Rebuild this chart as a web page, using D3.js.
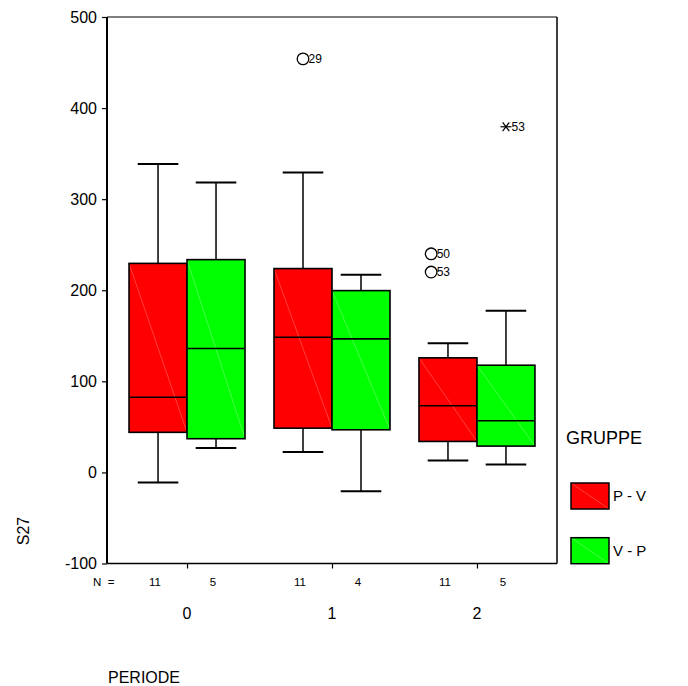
<!DOCTYPE html>
<html><head><meta charset="utf-8">
<script src="https://cdn.jsdelivr.net/npm/d3@7"></script>
<style>body{margin:0;background:#fff}svg{display:block;font-family:"Liberation Sans",Arial,sans-serif}</style>
</head><body><svg id="c" width="688" height="686"></svg>
<script>
const periods = ["0", "1", "2"];
const groups = ["P - V", "V - P"];
const groupColors = ["#ff0000", "#00ff00"];
const diagColors = ["#ff7c7c", "#8cff8c"];
const countsPV = [11, 11, 11];
const countsVP = [5, 4, 5];
const pvLow = [-11, 22.5, 13];
const pvQ1 = [44, 48.6, 34];
const pvMedian = [82.6, 148.4, 73.2];
const pvQ3 = [229.5, 223.8, 125.8];
const pvHigh = [338.6, 329.4, 141.8];
const vpLow = [26.7, -20.8, 8.8];
const vpQ1 = [37, 46.8, 28.9];
const vpMedian = [136, 146.6, 56.7];
const vpQ3 = [233.6, 199.6, 117.7];
const vpHigh = [318.4, 217, 177.4];
const outPeriod = [1, 2, 2, 2];
const outGroup = [0, 0, 0, 1];
const outValue = [454, 240, 220, 379.5];
const outLabel = ["29", "50", "53", "53"];
const outExtreme = [false, false, false, true];
const yTicks = [-100, 0, 100, 200, 300, 400, 500];

const svg = d3.select("#c");
const L = 107, R = 557, T = 17, B = 563.5;
const x = d3.scalePoint().domain(periods).range([L, R]).padding(0.552);
const step = x.step();
const bw = step * 0.4;
const y = d3.scaleLinear().domain([-100, 500]).range([B, T]);

const boxes = [];
periods.forEach((p, i) => {
  boxes.push({p, g: 0, low: pvLow[i], q1: pvQ1[i], med: pvMedian[i], q3: pvQ3[i], high: pvHigh[i], n: countsPV[i]});
  boxes.push({p, g: 1, low: vpLow[i], q1: vpQ1[i], med: vpMedian[i], q3: vpQ3[i], high: vpHigh[i], n: countsVP[i]});
});
const cx = d => x(d.p) + (d.g === 0 ? -bw / 2 : bw / 2);

// frame
svg.append("line").attr("x1", L).attr("x2", R).attr("y1", T).attr("y2", T).attr("stroke", "#000").attr("stroke-width", 1.2);
svg.append("line").attr("x1", R).attr("x2", R).attr("y1", T).attr("y2", B).attr("stroke", "#000").attr("stroke-width", 1.5);
svg.append("line").attr("x1", L).attr("x2", R).attr("y1", B).attr("y2", B).attr("stroke", "#000").attr("stroke-width", 1.5);

// y axis
const yAxis = d3.axisLeft(y).tickValues(yTicks).tickSize(5).tickPadding(5).tickFormat(d => String(d));
const ya = svg.append("g").attr("transform", `translate(${L},0)`).call(yAxis);
ya.attr("font-family", null);
ya.select(".domain").attr("stroke-width", 2).attr("d", `M-0,${T}V${B}`);
ya.selectAll(".tick line").attr("stroke-width", 1.2);
ya.selectAll("text").attr("font-size", 16).attr("fill", "#000");

// x axis ticks
const xAxis = d3.axisBottom(x).tickSize(5).tickFormat("");
const xa = svg.append("g").attr("transform", `translate(0,${B})`).call(xAxis);
xa.select(".domain").remove();
xa.selectAll(".tick line").attr("stroke-width", 1.2);

// whiskers
const wg = svg.append("g").attr("stroke", "#000").attr("stroke-width", 1.5);
boxes.forEach(d => {
  const c = cx(d);
  wg.append("line").attr("x1", c).attr("x2", c).attr("y1", y(d.q3)).attr("y2", y(d.high));
  wg.append("line").attr("x1", c).attr("x2", c).attr("y1", y(d.q1)).attr("y2", y(d.low));
  wg.append("line").attr("x1", c - bw * 0.35).attr("x2", c + bw * 0.35).attr("y1", y(d.high)).attr("y2", y(d.high)).attr("stroke-width", 2);
  wg.append("line").attr("x1", c - bw * 0.35).attr("x2", c + bw * 0.35).attr("y1", y(d.low)).attr("y2", y(d.low)).attr("stroke-width", 2);
});

// boxes
boxes.forEach(d => {
  const x0 = cx(d) - bw / 2, x1 = cx(d) + bw / 2;
  svg.append("rect").attr("x", x0).attr("y", y(d.q3)).attr("width", bw).attr("height", y(d.q1) - y(d.q3))
    .attr("fill", groupColors[d.g]).attr("stroke", "none");
  svg.append("line").attr("x1", x0).attr("y1", y(d.q3)).attr("x2", x1).attr("y2", y(d.q1))
    .attr("stroke", diagColors[d.g]).attr("stroke-width", 0.5);
  svg.append("rect").attr("x", x0).attr("y", y(d.q3)).attr("width", bw).attr("height", y(d.q1) - y(d.q3))
    .attr("fill", "none").attr("stroke", "#000").attr("stroke-width", 1.6);
  svg.append("line").attr("x1", x0).attr("x2", x1).attr("y1", y(d.med)).attr("y2", y(d.med))
    .attr("stroke", "#000").attr("stroke-width", 1.6);
});

// outliers
outValue.forEach((v, i) => {
  const b = boxes.find(d => d.p === periods[outPeriod[i]] && d.g === outGroup[i]);
  const multi = outPeriod.filter((p, j) => p === outPeriod[i] && outGroup[j] === outGroup[i] && !outExtreme[j]).length > 1;
  const c = cx(b) - (multi ? bw * 0.29 : 0);
  const yy = y(v);
  if (outExtreme[i]) {
    const s = 5.5;
    const g = svg.append("g").attr("stroke", "#000").attr("stroke-width", 1.2);
    g.append("line").attr("x1", c - s).attr("x2", c + s).attr("y1", yy).attr("y2", yy);
    g.append("line").attr("x1", c - s * 0.6).attr("x2", c + s * 0.6).attr("y1", yy - s * 0.8).attr("y2", yy + s * 0.8);
    g.append("line").attr("x1", c - s * 0.6).attr("x2", c + s * 0.6).attr("y1", yy + s * 0.8).attr("y2", yy - s * 0.8);
  } else {
    svg.append("circle").attr("cx", c).attr("cy", yy).attr("r", 5.8).attr("fill", "none").attr("stroke", "#000").attr("stroke-width", 1.3);
  }
  svg.append("text").attr("x", c + 5.5).attr("y", yy).attr("dy", "0.36em").attr("font-size", 12).text(outLabel[i]);
});

// N row
svg.append("text").attr("x", 93).attr("y", 582).attr("dy", "0.35em").attr("font-size", 11.5)
  .style("white-space", "pre").text("N  =");
boxes.forEach(d => {
  svg.append("text").attr("x", cx(d) - 3).attr("y", 582).attr("dy", "0.35em").attr("font-size", 11.5).attr("text-anchor", "middle").text(d.n);
});

// category labels
periods.forEach(p => {
  svg.append("text").attr("x", x(p)).attr("y", 613).attr("dy", "0.35em").attr("font-size", 16).attr("text-anchor", "middle").text(p);
});

// axis titles
svg.append("text").attr("transform", "translate(29,531) rotate(-90)").attr("text-anchor", "middle").attr("font-size", 16).text("S27");
svg.append("text").attr("x", 108).attr("y", 683).attr("font-size", 16).text("PERIODE");

// legend
svg.append("text").attr("x", 566).attr("y", 438).attr("dy", "0.35em").attr("font-size", 18).text("GRUPPE");
groups.forEach((g, i) => {
  const ly = 483 + i * 54.7;
  svg.append("rect").attr("x", 571).attr("y", ly).attr("width", 38).attr("height", 26).attr("fill", groupColors[i]);
  svg.append("line").attr("x1", 571).attr("y1", ly).attr("x2", 609).attr("y2", ly + 26).attr("stroke", diagColors[i]).attr("stroke-width", 0.5);
  svg.append("rect").attr("x", 571).attr("y", ly).attr("width", 38).attr("height", 26).attr("fill", "none").attr("stroke", "#000").attr("stroke-width", 1.5);
  svg.append("text").attr("x", 613).attr("y", ly + 13).attr("dy", "0.35em").attr("font-size", 15).text(g);
});
</script></body></html>
